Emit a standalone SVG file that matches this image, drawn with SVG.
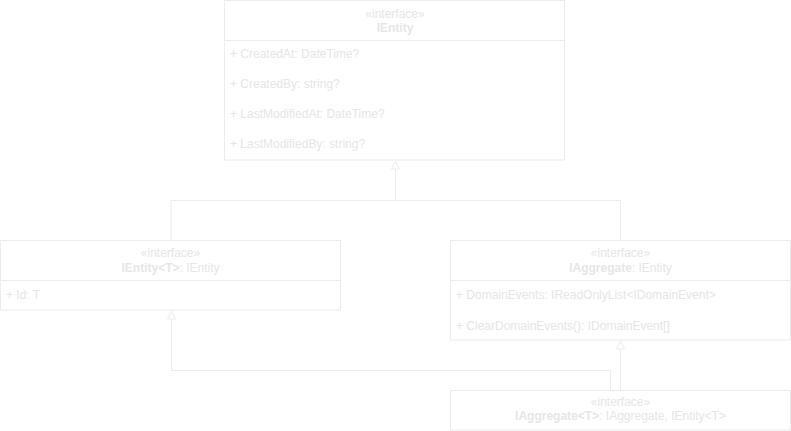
<svg xmlns="http://www.w3.org/2000/svg" width="791" height="431" viewBox="0 0 791 431">
<defs>
<style>
.box{fill:#ffffff;stroke:#ececec;stroke-width:1}
.div{stroke:#ececec;stroke-width:1}
.conn{fill:none;stroke:#ececec;stroke-width:1}
.arr{fill:#ffffff;stroke:#ececec;stroke-width:1}
text{font-family:"Liberation Sans",Arial,sans-serif;font-size:12px;fill:#e6e6e6}
.st{text-anchor:middle}
.nm{text-anchor:middle}
.b{font-weight:bold}
</style>
</defs>
<rect width="791" height="431" fill="#ffffff"/>
<g id="connectors">
<path class="conn" d="M171 240 V200.5 H620.5 V240"/>
<path class="conn" d="M395.5 200.5 V169"/>
<polygon class="arr" points="395.5,161 399.5,169 391.5,169"/>
<path class="conn" d="M610.5 390 V370.5 H171.5 V319"/>
<polygon class="arr" points="171.5,311 175.5,319 167.5,319"/>
<path class="conn" d="M620.5 390 V349"/>
<polygon class="arr" points="620.5,341 624.5,349 616.5,349"/>
</g>
<g id="IEntity">
<rect class="box" x="224.5" y="0.5" width="340" height="159.5"/>
<line class="div" x1="224.5" y1="40.5" x2="564.5" y2="40.5"/>
<text class="st" x="395" y="18">«interface»</text>
<text class="nm b" x="395" y="32">IEntity</text>
<text x="230" y="58">+ CreatedAt: DateTime?</text>
<text x="230" y="88">+ CreatedBy: string?</text>
<text x="230" y="118">+ LastModifiedAt: DateTime?</text>
<text x="230" y="148">+ LastModifiedBy: string?</text>
</g>
<g id="IEntityT">
<rect class="box" x="0.5" y="240.5" width="340" height="69.5"/>
<line class="div" x1="0.5" y1="280.5" x2="340.5" y2="280.5"/>
<text class="st" x="170.5" y="257">«interface»</text>
<text class="nm" x="170.5" y="271.5"><tspan class="b">IEntity&lt;T&gt;</tspan>: IEntity</text>
<text x="6" y="299">+ Id: T</text>
</g>
<g id="IAggregate">
<rect class="box" x="450.5" y="240.5" width="340" height="99.5"/>
<line class="div" x1="450.5" y1="280.5" x2="790.5" y2="280.5"/>
<text class="st" x="620.5" y="257">«interface»</text>
<text class="nm" x="620.5" y="271.5"><tspan class="b">IAggregate</tspan>: IEntity</text>
<text x="456" y="299">+ DomainEvents: IReadOnlyList&lt;IDomainEvent&gt;</text>
<text x="456" y="329.5">+ ClearDomainEvents(): IDomainEvent[]</text>
</g>
<g id="IAggregateT">
<rect class="box" x="450.5" y="390.5" width="340" height="39.5"/>
<text class="st" x="620.5" y="406">«interface»</text>
<text class="nm" x="620.5" y="420"><tspan class="b">IAggregate&lt;T&gt;</tspan>: IAggregate, IEntity&lt;T&gt;</text>
</g>
</svg>
